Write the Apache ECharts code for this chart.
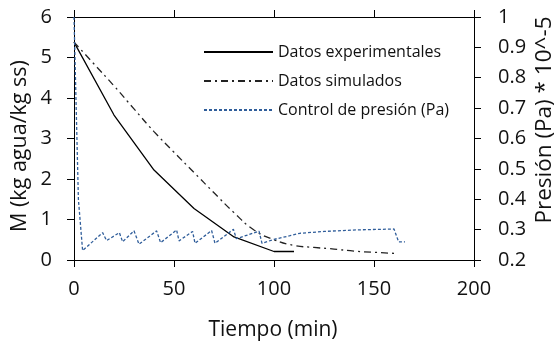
<!DOCTYPE html>
<html><head><meta charset="utf-8">
<script src="https://cdn.jsdelivr.net/npm/echarts@6/dist/echarts.min.js"></script>
<style>html,body{margin:0;padding:0;background:#fff}#c{width:559px;height:341px}</style>
</head><body><div id="c"></div><script>
// Tick labels
const xTicks = [0, 50, 100, 150, 200];
const yLeftTicks = [0, 1, 2, 3, 4, 5, 6];
const yRightTicks = [0.2, 0.3, 0.4, 0.5, 0.6, 0.7, 0.8, 0.9, 1];

// Datos experimentales
const expTime = [0, 20, 40, 60, 80, 100, 110];
const expM    = [5.38, 3.58, 2.22, 1.27, 0.57, 0.21, 0.21];

// Datos simulados
const simTime = [0, 10, 20, 30, 40, 50, 60, 70, 80, 90, 100, 110, 120, 130, 140, 150, 160];
const simM    = [5.38, 4.84, 4.3, 3.73, 3.17, 2.66, 2.16, 1.66, 1.17, 0.74, 0.5, 0.36, 0.31, 0.27, 0.22, 0.19, 0.165];

// Control de presión (Pa) * 10^-5
const presTime = [0, 2.2, 4.3, 14.3, 16.3, 22.7, 24.3, 30, 32.5, 41.3, 43.3, 51.3, 52.5, 59.3, 60.5, 68.8, 70.5, 79.7, 81.2, 92.5, 94, 100, 108, 113, 125, 141, 160, 162.3, 165.5];
const presVal  = [1.0, 0.4, 0.231, 0.29, 0.264, 0.29, 0.26, 0.296, 0.252, 0.296, 0.257, 0.299, 0.263, 0.294, 0.255, 0.297, 0.255, 0.301, 0.27, 0.295, 0.255, 0.268, 0.28, 0.288, 0.294, 0.299, 0.302, 0.26, 0.26];

const names = ['Datos experimentales', 'Datos simulados', 'Control de presión (Pa)'];
const FONT = 'Open Sans';
const TXT = '#111';

const zip = (a, b) => a.map((v, i) => [v, b[i]]);
const mkLine = () => ({show: true, onZero: false, lineStyle: {color: '#000', width: 1}});
const mkTick = () => ({show: true, inside: false, length: 7, lineStyle: {color: '#000', width: 1}});

const chart = echarts.init(document.getElementById('c'));
chart.setOption({
  animation: false,
  grid: {left: 74, right: 85, top: 17, bottom: 81},
  legend: {
    orient: 'vertical', left: 203, top: 44, padding: 0,
    itemWidth: 69, itemHeight: 14, itemGap: 13,
    itemStyle: {opacity: 0},
    textStyle: {fontFamily: FONT, fontSize: 16, color: TXT, lineHeight: 14},
    data: names
  },
  xAxis: [
    {type: 'value', min: 0, max: 200, interval: 50,
     position: 'bottom', axisLine: mkLine(), axisTick: mkTick(), splitLine: {show: false},
     axisLabel: {show: true, fontFamily: FONT, fontSize: 20, color: TXT, margin: 19}},
    {type: 'value', min: 0, max: 200, interval: 50,
     position: 'top', axisLine: mkLine(), axisTick: mkTick(), splitLine: {show: false}, axisLabel: {show: false}}
  ],
  yAxis: [
    {type: 'value', min: 0, max: 6, interval: 1,
     position: 'left', axisLine: mkLine(), axisTick: mkTick(), splitLine: {show: false},
     axisLabel: {show: true, fontFamily: FONT, fontSize: 20, color: TXT, margin: 22}},
    {type: 'value', min: 0.2, max: 1, interval: 0.1,
     position: 'right', axisLine: mkLine(), axisTick: mkTick(), splitLine: {show: false},
     axisLabel: {show: true, fontFamily: FONT, fontSize: 20, color: TXT, margin: 24,
       formatter: v => String(+v.toFixed(1))}}
  ],
  graphic: [
    {type: 'text', x: 273, y: 330, style: {text: 'Tiempo (min)', font: '21px "Open Sans"', fill: TXT, align: 'center', verticalAlign: 'middle'}},
    {type: 'text', x: 20, y: 146, rotation: Math.PI / 2, style: {text: 'M (kg agua/kg ss)', font: '21.5px "Open Sans"', fill: TXT, align: 'center', verticalAlign: 'middle'}},
    {type: 'text', x: 545, y: 120, rotation: Math.PI / 2, style: {text: 'Presión (Pa) * 10^-5', font: '22.5px "Open Sans"', fill: TXT, align: 'center', verticalAlign: 'middle'}}
  ],
  series: [
    {name: names[0], type: 'line', xAxisIndex: 0, yAxisIndex: 0, symbol: 'none', smooth: false,
     data: zip(expTime, expM), lineStyle: {color: '#000', width: 1.3, type: 'solid'}, itemStyle: {color: '#000'}},
    {name: names[1], type: 'line', xAxisIndex: 0, yAxisIndex: 0, symbol: 'none', smooth: true,
     data: zip(simTime, simM), lineStyle: {color: '#222', width: 1.3, type: [7, 4, 2, 4]}, itemStyle: {color: '#222'}},
    {name: names[2], type: 'line', xAxisIndex: 0, yAxisIndex: 1, symbol: 'none', smooth: false,
     data: zip(presTime, presVal), lineStyle: {color: '#2f5d9a', width: 1.3, type: [3, 2]}, itemStyle: {color: '#2f5d9a'}}
  ]
});
</script></body></html>
